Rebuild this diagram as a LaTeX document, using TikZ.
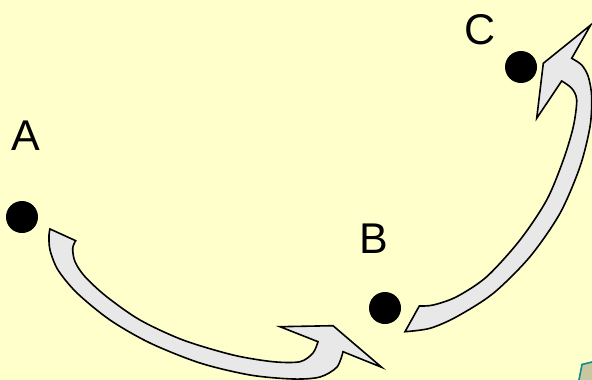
\documentclass[tikz,border=0pt]{standalone}
\usepackage{fontspec}
\setmainfont{Liberation Sans}
\definecolor{bg}{HTML}{FFFFCC}
\definecolor{arrfill}{HTML}{E8E8E8}
\definecolor{tealc}{HTML}{108C8C}
\definecolor{khaki}{HTML}{C8C8A0}
\tikzset{
  dot/.style={circle,fill=black,inner sep=0pt,minimum size=32pt},
  lbl/.style={inner sep=0pt,anchor=base,font=\fontsize{43}{43}\selectfont},
  blockarrow/.style={fill=arrfill,draw=black,line width=1.6pt,line join=miter}
}
\begin{document}
\begin{tikzpicture}[x=1pt,y=-1pt]
\useasboundingbox (0,0) rectangle (592,380);
\fill[bg] (0,0) rectangle (592,380);
% corner shape
\path[fill=khaki,draw=tealc,line width=1.6pt] (582,364.5) -- (600,360) -- (600,390) -- (577,390) -- cycle;
\fill[bg] (592,0) rectangle (610,400);
\fill[bg] (0,380) rectangle (610,400);
% dots
\node[dot] (A) at (22,217) {};
\node[dot] (B) at (385,308) {};
\node[dot] (C) at (521,67) {};
% labels
\node[lbl] (la) at (26,150) {A};
\node[lbl] (lb) at (374,253) {B};
\node[lbl] (lc) at (480,44.5) {C};
% arrow A -> B
\draw[blockarrow] (50,229) -- plot[smooth] coordinates {(75.7,240.7) (72.7,248.3) (75,261.7) (85,276.7) (106.7,296.7) (140,320) (183,340) (233,355) (273,361.7) (300,361.7) (313,353) (318,341.7)}
  -- (280,326.7) -- (333,325.7) -- (381.7,367.3) -- (343,351.7)
  -- plot[smooth] coordinates {(343,351.7) (337,367) (320,377) (293,379) (250,375) (200,363) (150,343) (110,320) (77,293) (58,270) (50,250) (49,235) (50,229)} -- cycle;
% arrow B -> C
\draw[blockarrow] (405,331.7) -- plot[smooth] coordinates {(419.3,306) (433.3,305) (456.7,296.7) (486.7,276.7) (520,240) (546.7,200) (563.3,160) (573.3,126.7) (576.7,100) (571.7,88.3) (561.7,81)}
  -- (536.7,118.3) -- (543.3,63.3) -- (590.7,25) -- (571.7,58.3)
  -- plot[smooth] coordinates {(571.7,58.3) (581.7,65) (588.3,76.7) (591.7,96.7) (590,126.7) (580,166.7) (560,213.3) (530,256.7) (493.3,293.3) (456.7,316.7) (430,328.3) (405,331.7)} -- cycle;
\end{tikzpicture}
\end{document}
